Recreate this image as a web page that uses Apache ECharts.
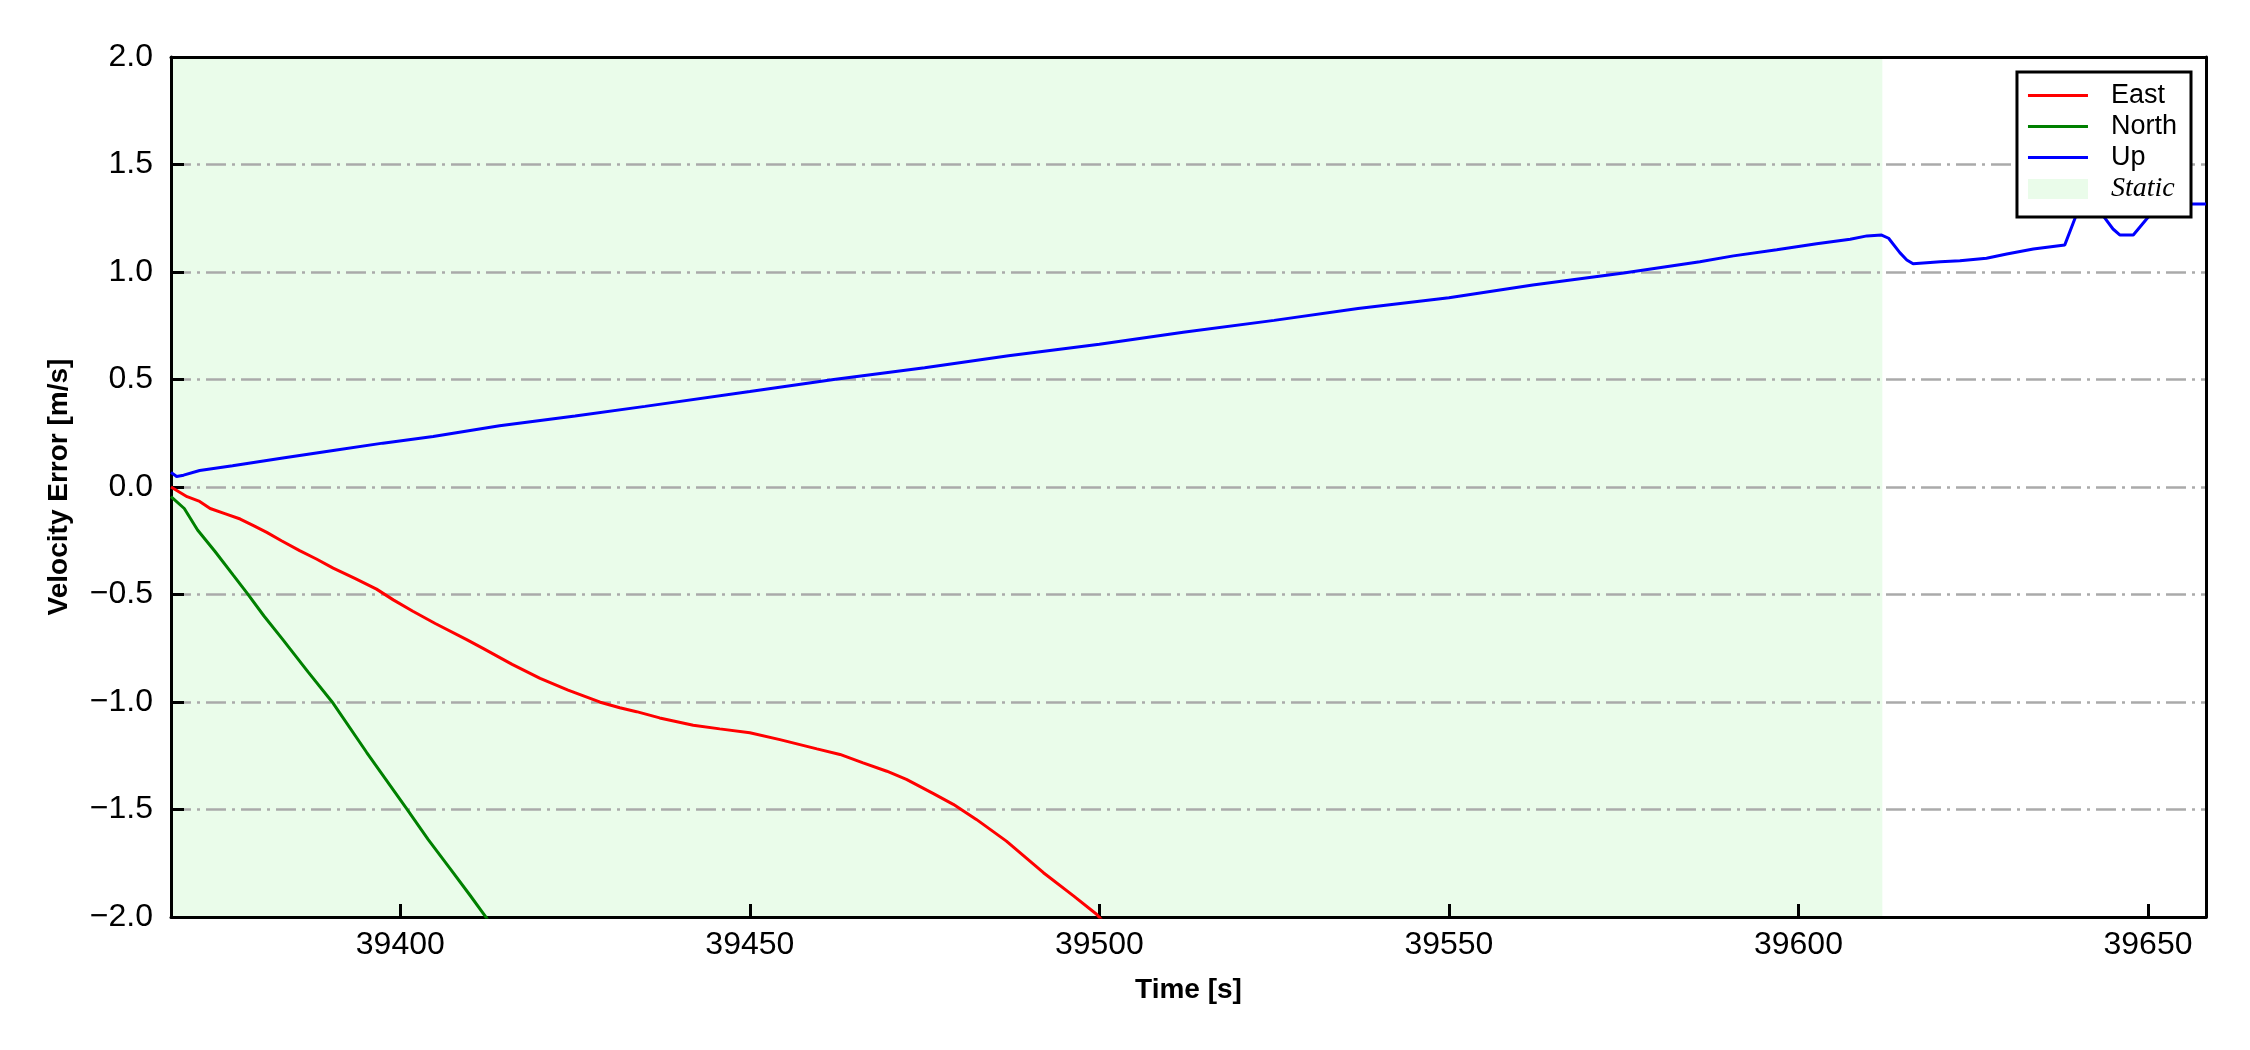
<!DOCTYPE html>
<html>
<head>
<meta charset="utf-8">
<script src="https://cdn.jsdelivr.net/npm/echarts@6/dist/echarts.min.js"></script>
<style>html,body{margin:0;padding:0;background:#fff}#c{width:2250px;height:1050px}</style>
</head>
<body>
<div id="c"></div>
<script>
// ---- data ----
const xTicks = [39400, 39450, 39500, 39550, 39600, 39650];
const yTicks = [-2.0, -1.5, -1.0, -0.5, 0.0, 0.5, 1.0, 1.5, 2.0];
const staticRange = [39367.2, 39612.0];

const eastT = [39367.2, 39369.5, 39371.3, 39372.8, 39375.0, 39377.1, 39379.0, 39380.9, 39383.0, 39385.6,
  39388.0, 39390.4, 39393.5, 39396.6, 39399.0, 39401.8, 39405.0, 39409.5, 39411.9, 39416.0,
  39420.0, 39424.0, 39428.6, 39431.4, 39433.8, 39437.1, 39441.9, 39445.7, 39450.0, 39454.3,
  39459.6, 39462.9, 39466.2, 39469.6, 39472.4, 39476.2, 39479.1, 39482.4, 39486.7, 39492.0,
  39496.3, 39499.6, 39500.5];
const eastV = [0.0, -0.045, -0.067, -0.10, -0.125, -0.149, -0.18, -0.211, -0.25, -0.296,
  -0.335, -0.377, -0.425, -0.475, -0.525, -0.578, -0.635, -0.71, -0.752, -0.825,
  -0.89, -0.945, -1.001, -1.027, -1.045, -1.074, -1.108, -1.125, -1.143, -1.175,
  -1.218, -1.244, -1.283, -1.322, -1.36, -1.425, -1.476, -1.546, -1.647, -1.794,
  -1.902, -1.987, -2.02];

const northT = [39367.2, 39369.1, 39371.0, 39373.5, 39376.1, 39378.0, 39380.5, 39383.2, 39386.8, 39390.4,
  39395.2, 39400.9, 39404.0, 39407.1, 39410.0, 39412.3, 39413.0];
const northV = [-0.045, -0.10, -0.20, -0.30, -0.41, -0.49, -0.60, -0.71, -0.86, -1.006,
  -1.235, -1.496, -1.64, -1.774, -1.90, -2.003, -2.04];

const upT = [39367.2, 39368.0, 39369.0, 39371.3, 39376.0, 39383.2, 39390.4, 39397.5, 39404.7, 39414.2,
  39425.0, 39435.0, 39450.0, 39462.0, 39475.0, 39487.0, 39500.0, 39512.0, 39525.0, 39537.0,
  39550.0, 39562.0, 39575.0, 39585.9, 39590.7, 39596.9, 39602.6, 39607.4, 39609.8, 39611.9,
  39612.9, 39614.5, 39615.5, 39616.4, 39620.3, 39623.1, 39626.9, 39629.8, 39633.6, 39638.1,
  39639.8, 39641.5, 39643.6, 39645.0, 39646.0, 39647.9, 39650.1, 39651.5, 39653.0, 39658.3];
const upV = [0.068, 0.049, 0.055, 0.077, 0.099, 0.135, 0.17, 0.204, 0.235, 0.285,
  0.33, 0.375, 0.444, 0.50, 0.555, 0.61, 0.664, 0.72, 0.775, 0.83,
  0.88, 0.94, 0.995, 1.048, 1.075, 1.103, 1.131, 1.152, 1.168, 1.172,
  1.157, 1.09, 1.056, 1.038, 1.048, 1.052, 1.064, 1.084, 1.107, 1.126,
  1.27, 1.32, 1.261, 1.20, 1.172, 1.172, 1.258, 1.30, 1.316, 1.316];

const zip = (t, v) => t.map((x, i) => [x, v[i]]);
const FONT = '"Liberation Sans", Arial, sans-serif';
const fmtY = v => (v < 0 ? '\u2212' : '') + Math.abs(v).toFixed(1);
const STATIC_COLOR = '#eafcea';

const chart = echarts.init(document.getElementById('c'), null, {renderer: 'canvas'});
const lineIcon = 'path://M0,0h60v3h-60z';

chart.setOption({
  animation: false,
  backgroundColor: '#ffffff',
  grid: {left: 171, right: 44, top: 57, bottom: 133, containLabel: false},
  xAxis: [{
    type: 'value', min: 39367.2, max: 39658.3, z: 3,
    name: 'Time [s]', nameLocation: 'middle', nameGap: 59,
    nameTextStyle: {fontFamily: FONT, fontSize: 28, fontWeight: 'bold', color: '#000'},
    axisLine: {show: true, onZero: false, lineStyle: {color: '#000', width: 3}},
    axisTick: {show: true, inside: true, length: 13, lineStyle: {color: '#000', width: 3}, customValues: xTicks},
    axisLabel: {show: true, margin: 12, fontFamily: FONT, fontSize: 32, color: '#000', customValues: xTicks,
      formatter: v => String(Math.round(v))},
    splitLine: {show: false}
  }, {
    type: 'value', position: 'top', min: 39367.2, max: 39658.3, z: 3,
    axisLine: {show: true, onZero: false, lineStyle: {color: '#000', width: 3}},
    axisTick: {show: false}, axisLabel: {show: false}, splitLine: {show: false}
  }],
  yAxis: [{
    type: 'value', min: -2, max: 2, interval: 0.5, z: 3,
    name: 'Velocity Error [m/s]', nameLocation: 'middle', nameGap: 98,
    nameTextStyle: {fontFamily: FONT, fontSize: 28, fontWeight: 'bold', color: '#000'},
    axisLine: {show: true, onZero: false, lineStyle: {color: '#000', width: 3}},
    axisTick: {show: true, inside: true, length: 13, lineStyle: {color: '#000', width: 3}},
    axisLabel: {show: true, margin: 18, fontFamily: FONT, fontSize: 32, color: '#000', formatter: fmtY},
    splitLine: {show: true, showMinLine: false, showMaxLine: false,
      lineStyle: {color: '#aaaaaa', width: 2.5, type: [20, 6, 3, 6]}}
  }, {
    type: 'value', position: 'right', min: -2, max: 2, z: 3,
    axisLine: {show: true, onZero: false, lineStyle: {color: '#000', width: 3}},
    axisTick: {show: false}, axisLabel: {show: false}, splitLine: {show: false}
  }],
  legend: {
    orient: 'vertical', right: 59, top: 72,
    padding: [10, 14, 14, 11], itemGap: 4, itemWidth: 60, itemHeight: 20,
    backgroundColor: '#ffffff', borderColor: '#000', borderWidth: 3, borderRadius: 0,
    z: 10,
    formatter: name => name === 'Static' ? '{s|Static}' : name,
    textStyle: {fontFamily: FONT, fontSize: 27, color: '#000', padding: [0, 0, 0, 18],
      rich: {s: {fontFamily: '"Liberation Serif", "Times New Roman", serif', fontStyle: 'italic', fontSize: 28, color: '#000'}}},
    data: [
      {name: 'East', icon: lineIcon, itemStyle: {color: '#ff0000', borderWidth: 0}},
      {name: 'North', icon: lineIcon, itemStyle: {color: '#008000', borderWidth: 0}},
      {name: 'Up', icon: lineIcon, itemStyle: {color: '#0000ff', borderWidth: 0}},
      {name: 'Static', icon: 'rect', itemStyle: {color: STATIC_COLOR, borderWidth: 0}}
    ]
  },
  series: [
    {
      name: 'Static', type: 'line', data: [], z: 1, color: STATIC_COLOR,
      itemStyle: {color: STATIC_COLOR},
      markArea: {silent: true, z: 1, itemStyle: {color: STATIC_COLOR},
        data: [[{xAxis: staticRange[0]}, {xAxis: staticRange[1]}]]}
    },
    {name: 'East', type: 'line', z: 5, data: zip(eastT, eastV), showSymbol: false, symbol: 'none',
      color: '#ff0000', lineStyle: {color: '#ff0000', width: 3}, clip: true},
    {name: 'North', type: 'line', z: 5, data: zip(northT, northV), showSymbol: false, symbol: 'none',
      color: '#008000', lineStyle: {color: '#008000', width: 3}, clip: true},
    {name: 'Up', type: 'line', z: 5, data: zip(upT, upV), showSymbol: false, symbol: 'none',
      color: '#0000ff', lineStyle: {color: '#0000ff', width: 3}, clip: true}
  ]
});
</script>
</body>
</html>
